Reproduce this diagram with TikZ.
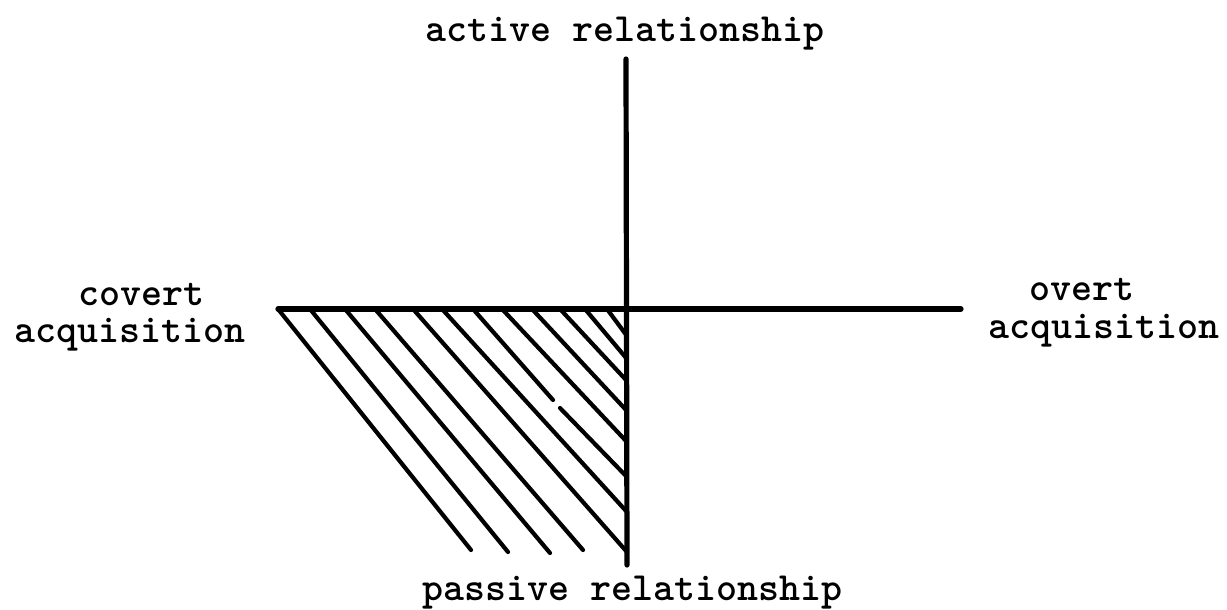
\documentclass[tikz,border=0pt]{standalone}
\begin{document}
\begin{tikzpicture}[x=0.5pt,y=-0.5pt,
  axis/.style={line width=2.6pt,line cap=round},
  hatch/.style={line width=2.1pt,line cap=round},
  lbl/.style={inner sep=0pt,anchor=base,font=\fontsize{20}{22}\selectfont\ttfamily\bfseries}]
\useasboundingbox (0,0) rectangle (1227,610);
% axes
\coordinate (top) at (626,59);
\coordinate (bot) at (627,565);
\coordinate (lft) at (278,309);
\coordinate (rgt) at (961,309);
\coordinate (o) at (627,309);
\draw[axis] (top) -- (bot);
\draw[axis] (lft) -- (rgt);
% hatching
\draw[hatch] (lft) -- (471,550);
\draw[hatch] (310,309) -- (508,552);
\draw[hatch] (345,309) -- (550,553);
\draw[hatch] (375,309) -- (583,550);
\draw[hatch] (413,309) -- (627,552);
\draw[hatch] (442,309) -- (627,512);
\draw[hatch] (473,309) -- (553,400);
\draw[hatch] (560,408) -- (627,477);
\draw[hatch] (502,309) -- (627,442);
\draw[hatch] (532,309) -- (627,411);
\draw[hatch] (560,309) -- (627,381);
\draw[hatch] (585,309) -- (627,359);
\draw[hatch] (607,309) -- (627,336);
% labels
\node[lbl] (act) at (625,42) {active relationship};
\node[lbl] (pas) at (632,600) {passive relationship};
\node[lbl] (cov1) at (141,305) {covert};
\node[lbl] (cov2) at (130,342) {acquisition};
\node[lbl] (ovr1) at (1082,300) {overt};
\node[lbl] (ovr2) at (1104,338) {acquisition};
\end{tikzpicture}
\end{document}
